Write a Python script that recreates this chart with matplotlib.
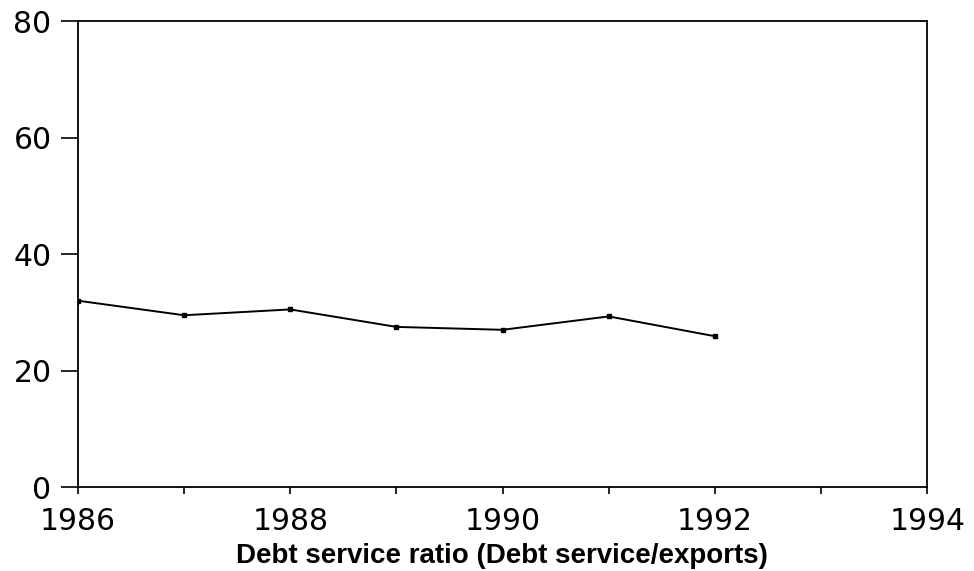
import numpy as np
import matplotlib.pyplot as plt

# debt service ratio data
years = [1986, 1987, 1988, 1989, 1990, 1991, 1992]
ratio = [32.0, 29.5, 30.5, 27.5, 27.0, 29.3, 25.9]
xticks_major = [1986, 1988, 1990, 1992, 1994]
yticks = [0, 20, 40, 60, 80]
title = 'Debt service ratio (Debt service/exports)'


def main():
    fig = plt.figure(figsize=(9.74, 5.71), dpi=100)
    ax = fig.add_axes([0.080, 0.147, 0.872, 0.816])

    ax.plot(years, ratio, color='black', linewidth=1.4, marker='s', markersize=3)

    ax.set_xlim(1986, 1994)
    ax.set_ylim(0, 80)
    ax.set_xticks(xticks_major)
    ax.set_xticks(np.arange(1987, 1994, 2), minor=True)
    ax.set_yticks(yticks)
    ax.tick_params(axis='x', which='both', direction='out', length=5, width=1.2,
                   labelsize=21.5, pad=9)
    ax.tick_params(axis='y', direction='out', length=12, width=1.2, labelsize=21.5, pad=7)
    for s in ax.spines.values():
        s.set_linewidth(1.3)

    fig.text(0.515, 0.003, title, ha='center', va='bottom',
             fontsize=20, fontweight='bold', family='Liberation Sans')

    fig.savefig('out.png', dpi=100)


if __name__ == '__main__':
    main()
